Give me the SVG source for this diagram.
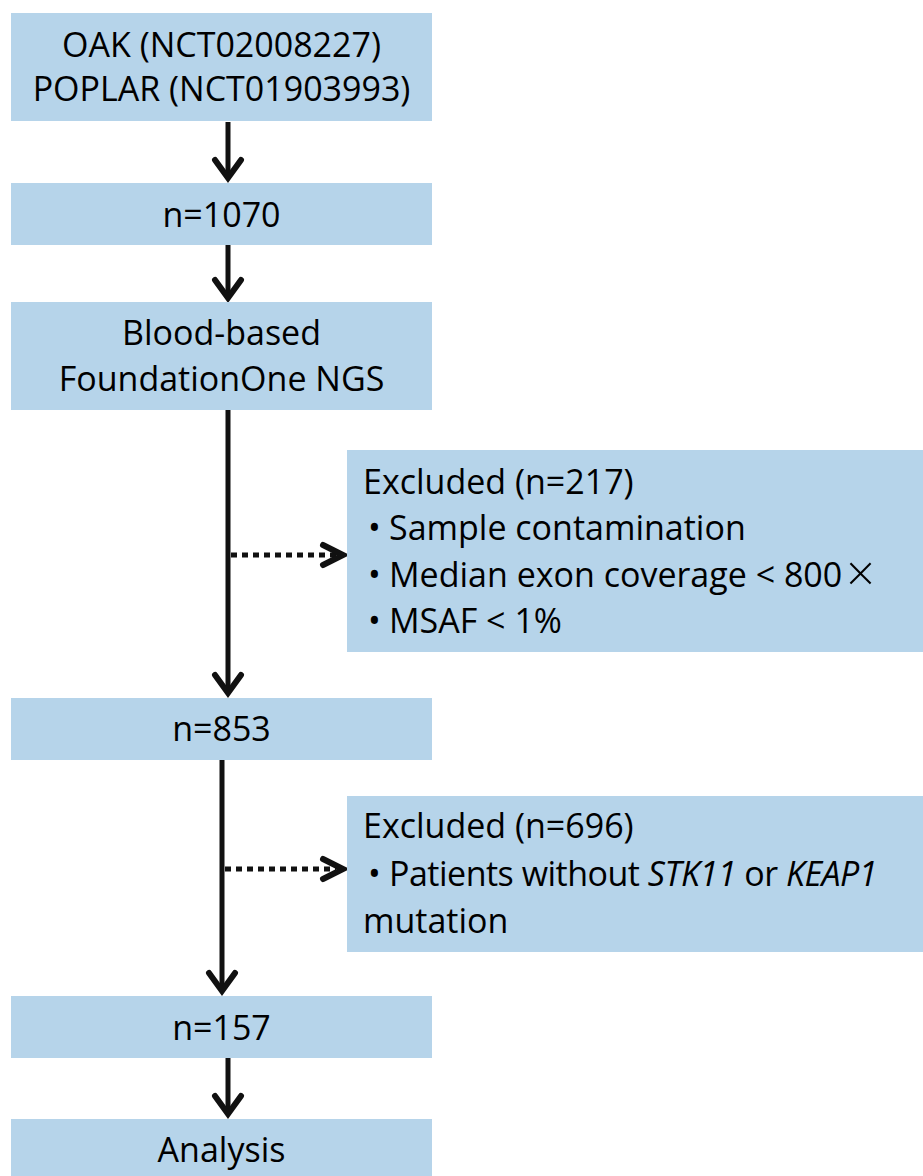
<svg xmlns="http://www.w3.org/2000/svg" width="923" height="1176" viewBox="0 0 923 1176">
<style>
.box{fill:#b6d4ea;}
.t{font-family:"Open Sans","Liberation Sans",sans-serif;font-size:34px;fill:#000;}
.c{text-anchor:middle;}
.ln{stroke:#111;stroke-width:5;fill:none;}
.hd{stroke:#111;stroke-width:6;fill:none;stroke-linecap:round;stroke-linejoin:miter;}
.dt{stroke:#111;stroke-width:5;fill:none;stroke-dasharray:6 5;}
</style>
<rect width="923" height="1176" fill="#fff"/>
<g id="connectors">
<line class="ln" x1="228" y1="122" x2="228" y2="178"/>
<polyline class="hd" points="215,160 228,178 241,160"/>
<line class="ln" x1="228" y1="245" x2="228" y2="298"/>
<polyline class="hd" points="215,280 228,298 241,280"/>
<line class="ln" x1="228" y1="410" x2="228" y2="693"/>
<polyline class="hd" points="215,675 228,693 241,675"/>
<line class="dt" x1="231" y1="555" x2="336" y2="555"/>
<polyline class="hd" points="323,545 343,555 323,565"/>
<line class="ln" x1="222" y1="760" x2="222" y2="991"/>
<polyline class="hd" points="209,973 222,991 235,973"/>
<line class="dt" x1="225" y1="869" x2="336" y2="869"/>
<polyline class="hd" points="323,859 343,869 323,879"/>
<line class="ln" x1="228" y1="1058" x2="228" y2="1114"/>
<polyline class="hd" points="215,1096 228,1114 241,1096"/>
</g>
<g id="n1"><rect class="box" x="11" y="13" width="421" height="108"/>
<text class="t c" x="221.5" y="57">OAK (NCT02008227)</text>
<text class="t c" x="221.5" y="101">POPLAR (NCT01903993)</text></g>
<g id="n2"><rect class="box" x="11" y="183" width="421" height="62"/>
<text class="t c" x="221.5" y="227">n=1070</text></g>
<g id="n3"><rect class="box" x="11" y="302" width="421" height="108"/>
<text class="t c" x="221.5" y="345">Blood-based</text>
<text class="t c" x="221.5" y="391">FoundationOne NGS</text></g>
<g id="n4"><rect class="box" x="11" y="698" width="421" height="62"/>
<text class="t c" x="221.5" y="741">n=853</text></g>
<g id="n5"><rect class="box" x="347" y="450" width="576" height="202"/>
<text class="t" x="363" y="494">Excluded (n=217)</text>
<text class="t" x="368" y="540">•</text><text class="t" x="389" y="540">Sample contamination</text>
<text class="t" x="368" y="587">•</text><text class="t" x="389" y="587">Median exon coverage &lt; 800<tspan dx="4" font-size="50" font-weight="300" dy="4">×</tspan></text>
<text class="t" x="368" y="633">•</text><text class="t" x="389" y="633">MSAF &lt; 1%</text></g>
<g id="n6"><rect class="box" x="347" y="796" width="576" height="156"/>
<text class="t" x="363" y="838">Excluded (n=696)</text>
<text class="t" x="368" y="886">•</text><text class="t" x="389" y="886" letter-spacing="-0.5">Patients without <tspan font-style="italic">STK11</tspan> or <tspan font-style="italic">KEAP1</tspan></text>
<text class="t" x="363" y="933">mutation</text></g>
<g id="n7"><rect class="box" x="11" y="996" width="421" height="62"/>
<text class="t c" x="221.5" y="1040">n=157</text></g>
<g id="n8"><rect class="box" x="11" y="1119" width="421" height="57"/>
<text class="t c" x="221.5" y="1162">Analysis</text></g>
</svg>
